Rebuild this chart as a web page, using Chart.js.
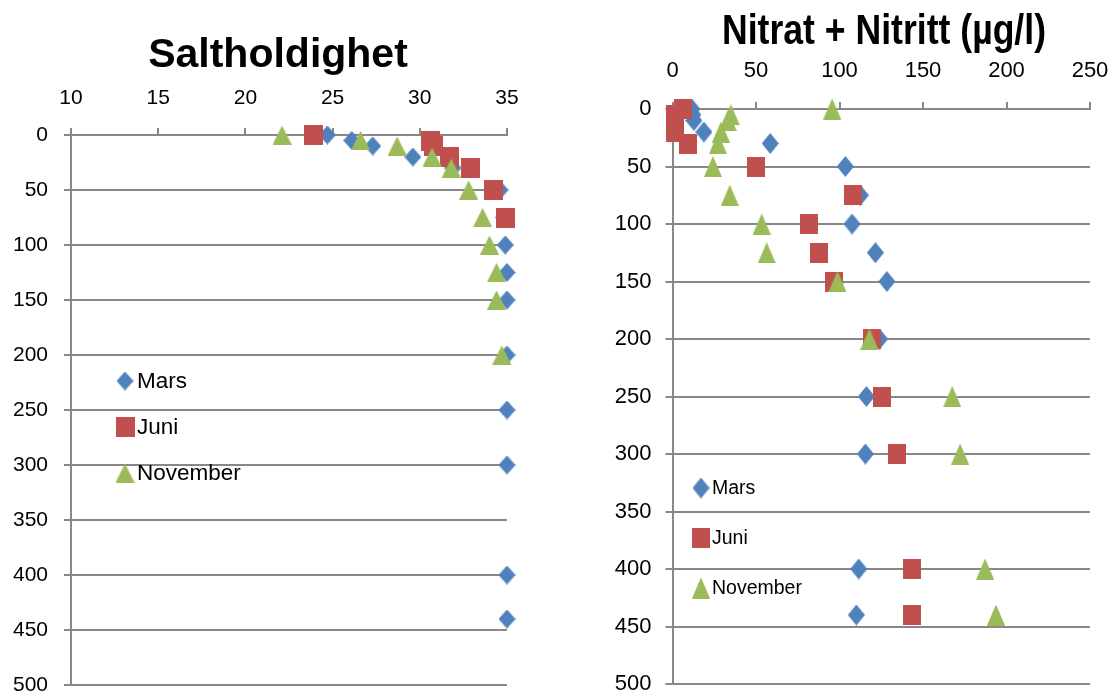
<!DOCTYPE html>
<html>
<head>
<meta charset="utf-8">
<script src="https://cdn.jsdelivr.net/npm/chart.js@4.4.0/dist/chart.umd.min.js"></script>
<style>
  body { margin: 0; background: #fff; width: 1115px; height: 700px; position: relative; overflow: hidden; }
  canvas { position: absolute; top: 0; }
  #saltChart { left: 0; }
  #nitChart { left: 557px; }
</style>
</head>
<body>
<canvas id="saltChart" width="557" height="720"></canvas>
<canvas id="nitChart" width="600" height="720"></canvas>
<script>
// depths (m) sampled in each month
const depths = [0, 5, 10, 20, 30, 50, 75, 100, 125, 150, 200, 250, 300, 400, 440];
const seriesNames = ['Mars', 'Juni', 'November'];

// Saltholdighet
const saltMars = [24.7, 26.1, 27.3, 29.6, 31.9, 34.6, 34.8, 34.9, 35.0, 35.0, 35.0, 35.0, 35.0, 35.0, 35.0];
const saltJuni = [23.9, 30.6, 30.8, 31.7, 32.9, 34.2, 34.9];
const saltNovember = [22.1, 26.6, 28.7, 30.7, 31.8, 32.8, 33.6, 34.0, 34.4, 34.4, 34.7];

// Nitrat + Nitritt (µg/l)
const nitMars = [11.6, 12.2, 12.8, 18.8, 58.5, 103.5, 112.5, 107.5, 121.5, 128.4, 124, 116.1, 115.5, 111.5, 110.1];
const nitJuni = [6.3, 1.7, 1.7, 1.7, 9.3, 50, 108, 82, 88, 96.5, 119.7, 125.7, 134.6, 143.3, 143.3];
const nitNovember = [95.6, 34.9, 33.1, 29, 27.2, 24.2, 34.3, 53.4, 56.4, 98.8, 117.9, 167.5, 172.2, 187.2, 193.7];

const saltTicks = { min: 10, max: 35, step: 5 };
const nitTicks = { min: 0, max: 250, step: 50 };
const depthTicks = { min: 0, max: 500, step: 50 };

const colors = ['#4F81BD', '#C0504D', '#9BBB59'];
const shapes = ['diamond', 'square', 'triangle'];

const FONT = "'Liberation Sans', Arial, sans-serif";

function marker(shape, color, w, h) {
  const c = document.createElement('canvas');
  c.width = w;
  c.height = h;
  const g = c.getContext('2d');
  g.fillStyle = color;
  g.beginPath();
  if (shape === 'diamond') {
    g.moveTo(w / 2, 0); g.lineTo(w, h / 2); g.lineTo(w / 2, h); g.lineTo(0, h / 2);
  } else if (shape === 'triangle') {
    g.moveTo(w / 2, 0); g.lineTo(w, h); g.lineTo(0, h);
  } else {
    g.rect(0, 0, w, h);
  }
  g.closePath();
  g.fill();
  return c;
}

function points(values) {
  return values.map((v, i) => ({ x: v, y: depths[i] }));
}

// legend drawn inside the plot area, like the original
const insideLegend = {
  id: 'insideLegend',
  afterDatasetsDraw(chart, args, opts) {
    const ctx = chart.ctx;
    ctx.save();
    ctx.font = opts.font;
    ctx.fillStyle = '#000';
    ctx.textBaseline = 'middle';
    chart.data.datasets.forEach((ds, i) => {
      const y = opts.y + i * opts.gap;
      const img = ds.pointStyle;
      ctx.drawImage(img, opts.x - img.width / 2, y - img.height / 2);
      ctx.fillText(ds.label, opts.textX, y + 1);
    });
    ctx.restore();
  }
};

// put the title where the original had it (width also caps the text width)
const titleCenter = {
  id: 'titleCenter',
  afterLayout(chart, args, opts) {
    const t = chart.titleBlock;
    if (!t || opts.x == null) return;
    const w = opts.width || (t.right - t.left);
    t.left = opts.x - w / 2;
    t.right = opts.x + w / 2;
  }
};

function makeChart(id, cfg) {
  const datasets = cfg.series.map((vals, i) => ({
    label: seriesNames[i],
    data: points(vals),
    pointStyle: marker(shapes[i], colors[i], cfg.sizes[i][0], cfg.sizes[i][1]),
    pointRadius: 10,
    pointHoverRadius: 10,
    backgroundColor: colors[i],
    borderColor: colors[i],
    showLine: false,
    clip: false,
    order: 3 - i
  }));

  const tickFont = { family: FONT, size: cfg.tickSize };

  return new Chart(document.getElementById(id), {
    type: 'scatter',
    data: { datasets },
    options: {
      responsive: false,
      animation: false,
      events: [],
      // padding kept larger than the label overhang so the plot edges stay put
      layout: { padding: cfg.padding },
      plugins: {
        legend: { display: false },
        tooltip: { enabled: false },
        title: {
          display: true,
          text: cfg.title,
          color: '#000',
          font: { family: FONT, size: cfg.titleSize, weight: 'bold', lineHeight: 1.2 },
          padding: { top: cfg.titlePad, bottom: 0 }
        },
        titleCenter: { x: cfg.titleX, width: cfg.titleWidth },
        insideLegend: cfg.legend
      },
      scales: {
        x: {
          type: 'linear',
          position: 'top',
          min: cfg.xTicks.min,
          max: cfg.xTicks.max,
          ticks: { stepSize: cfg.xTicks.step, color: '#000', font: tickFont, padding: cfg.xPad },
          grid: { drawOnChartArea: false, drawTicks: true, tickLength: 7, color: '#888', lineWidth: 2 },
          border: { color: '#888', width: 2 },
          afterFit: s => { s.height = cfg.xHeight; }
        },
        y: {
          type: 'linear',
          reverse: true,
          min: depthTicks.min,
          max: depthTicks.max,
          ticks: { stepSize: depthTicks.step, color: '#000', font: tickFont, padding: cfg.yPad },
          grid: { color: '#888', lineWidth: 2, tickLength: 7 },
          border: { color: '#888', width: 2 },
          afterFit: s => { s.width = cfg.yWidth; }
        }
      }
    },
    plugins: [titleCenter, insideLegend]
  });
}

makeChart('saltChart', {
  title: 'Saltholdighet',
  titleSize: 41,
  titlePad: 31,
  titleX: 278,
  tickSize: 21,
  series: [saltMars, saltJuni, saltNovember],
  sizes: [[17, 19], [19, 20], [19, 19]],
  xTicks: saltTicks,
  xHeight: 135 - (31 + 41 * 1.2),
  xPad: 17,
  yWidth: 71,
  yPad: 16,
  padding: { left: 0, right: 50, top: 0, bottom: 35 },
  legend: { x: 125, y: 381, gap: 46, textX: 137, font: '22.5px ' + FONT }
});

makeChart('nitChart', {
  title: 'Nitrat + Nitritt (µg/l)',
  titleSize: 42,
  titlePad: 7,
  titleX: 327,
  titleWidth: 324,
  tickSize: 22,
  series: [nitMars, nitJuni, nitNovember],
  sizes: [[17, 21], [18, 20], [18, 21]],
  xTicks: nitTicks,
  xHeight: 109 - (7 + 42 * 1.2),
  xPad: 18,
  yWidth: 115.5,
  yPad: 14,
  padding: { left: 0, right: 67, top: 0, bottom: 36 },
  legend: { x: 144, y: 488, gap: 50, textX: 155, font: '19.5px ' + FONT }
});
</script>
</body>
</html>
